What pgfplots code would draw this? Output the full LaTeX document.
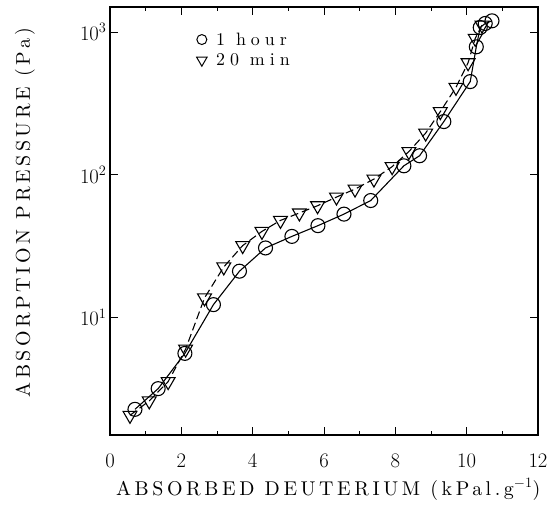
\documentclass[border=0pt]{standalone}
\usepackage{fontspec}
\newfontfamily\lablfont{lmroman10-regular}[Extension=.otf, LetterSpace=18]
\newfontfamily\legfont{lmroman10-regular}[Extension=.otf, LetterSpace=28]
\usepackage{pgfplots}
\pgfplotsset{compat=1.18}
\begin{document}
\begin{tikzpicture}
\useasboundingbox (-110bp,-83bp) rectangle (441bp,435bp);
\begin{axis}[
  at={(0,0)}, anchor=south west,
  width=428bp, height=428bp, scale only axis,
  ymode=log, log basis y=10,
  xmin=0, xmax=12, ymin=1.5, ymax=1500,
  xtick={0,2,...,12}, minor x tick num=1,
  ytick={10,100,1000},
  tick align=inside,
  major tick length=8bp, minor tick length=4.5bp,
  every tick/.style={black, line width=1pt},
  axis line style={line width=1.8pt},
  tick label style={font=\fontsize{20}{24}\selectfont},
  xticklabel style={yshift=-16bp},
  ylabel={ABSORPTION PRESSURE (Pa)},
  xlabel={ABSORBED DEUTERIUM (kPa\,l.g$^{-1}$)},
  label style={font=\lablfont\fontsize{20}{24}\selectfont},
  ylabel style={at={(axis description cs:-0.199,0.52)}, anchor=center},
  xlabel style={at={(axis description cs:0.51,-0.127)}, anchor=center},
  legend style={at={(axis description cs:0.195,0.95)}, anchor=north west, draw=none, fill=none,
    font=\legfont\fontsize{18}{22}\selectfont, row sep=3bp, column sep=4bp,
    nodes={inner xsep=5bp}},
  legend cell align=left,
]
\addplot[black, line width=1.1pt, mark=o, mark size=7bp, mark options={solid, fill=white, line width=1.1pt},
  legend image code/.code={\draw[solid, black, mark=o, mark size=5bp, line width=1pt, mark options={fill=white}] plot coordinates {(0.25cm,0cm)};}]
coordinates {
(0.70,2.27) (1.35,3.17) (2.10,5.6) (2.90,12.3) (3.63,21.1) (4.36,30.7) (5.10,37) (5.83,44)
(6.56,53) (7.31,66) (8.24,115.6) (8.68,136) (9.36,236) (10.10,450) (10.27,789)
(10.38,1078) (10.52,1150) (10.71,1200)
};
\addlegendentry{1 hour}
\addplot[black, line width=1.1pt, dash pattern=on 8bp off 4bp, mark=triangle, mark size=8bp, mark options={solid, rotate=180, fill=white, line width=1.1pt},
  legend image code/.code={\draw[solid, black, mark=triangle, mark size=6bp, line width=1pt, mark options={rotate=180, fill=white}] plot coordinates {(0.25cm,0cm)};}]
coordinates {
(0.56,2.06) (1.10,2.6) (1.63,3.55) (2.12,6.0) (2.65,13.7) (3.19,22.6) (3.72,31.9) (4.26,40.1)
(4.78,47.9) (5.31,54) (5.82,60.7) (6.35,69.8) (6.87,79.4) (7.40,93.3) (7.91,114) (8.38,145.5)
(8.85,196) (9.26,277) (9.70,410) (10.04,610) (10.24,904) (10.43,1119)
};
\addlegendentry{20 min}
\end{axis}
\end{tikzpicture}
\end{document}
